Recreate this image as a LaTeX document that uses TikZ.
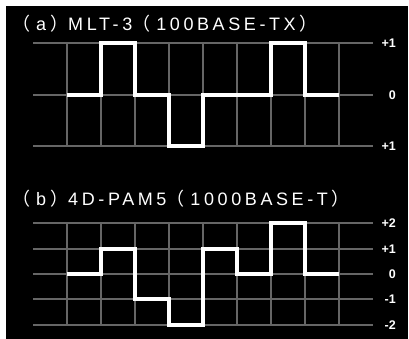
\documentclass[tikz,border=0pt]{standalone}
\usepackage{fontspec}
\setmainfont{Liberation Sans}
\newfontfamily\titlefont[LetterSpace=20]{Liberation Sans}
\newfontfamily\cjkfont{Noto Sans CJK JP}
\newcommand\lpar{{\cjkfont （}\hspace{6pt}}
\newcommand\rpar{\hspace{4pt}{\cjkfont ）}}
\usetikzlibrary{positioning}

\begin{document}
\begin{tikzpicture}[
    x=1pt, y=-1pt,
    gridline/.style={draw=black!60, line width=1.2pt},
    wave/.style={draw=white, line width=3.3pt},
    level/.style={text=white, font=\fontsize{12.5}{14}\selectfont\bfseries,
        inner sep=0pt, anchor=east},
    caption/.style={text=white, font=\fontsize{18}{20}\titlefont,
        inner sep=0pt, anchor=base west}
]
\useasboundingbox (0,0) rectangle (409,339);
\fill[white] (0,0) rectangle (409,339);
\fill[black] (6,6) rectangle (408,339);

% =========================================
% (a) MLT-3
% =========================================
\node[caption] (titleA) at (12,30.7) {\lpar a\rpar MLT-3\lpar 100BASE-TX\rpar};

\foreach \y in {43,95,146}
    \draw[gridline] (33,\y) -- (373,\y);
\foreach \x in {67,101,...,339}
    \draw[gridline] (\x,43) -- (\x,146);

\draw[wave] (67,95) -| (101,43) -| (135,95) -| (169,146) -| (203,95)
    -| (271,43) -| (305,95) -- (339,95);

\node[level] (aP) at (396,43) {+1};
\node[level] (aZ) at (396,95) {0};
\node[level] (aM) at (396,146) {+1};

% =========================================
% (b) 4D-PAM5
% =========================================
\node[caption] (titleB) at (12,205.7) {\lpar b\rpar 4D-PAM5\lpar 1000BASE-T\rpar};

\foreach \y in {223,249,274,299,325}
    \draw[gridline] (33,\y) -- (373,\y);
\foreach \x in {67,101,...,339}
    \draw[gridline] (\x,223) -- (\x,325);

\draw[wave] (67,274) -| (101,249) -| (135,299) -| (169,325) -| (203,249)
    -| (237,274) -| (271,223) -| (305,274) -- (339,274);

\node[level] (bPP) at (396,223) {+2};
\node[level] (bP) at (396,249) {+1};
\node[level] (bZ) at (396,274) {0};
\node[level] (bM) at (396,299) {-1};
\node[level] (bMM) at (396,325) {-2};

\end{tikzpicture}
\end{document}
